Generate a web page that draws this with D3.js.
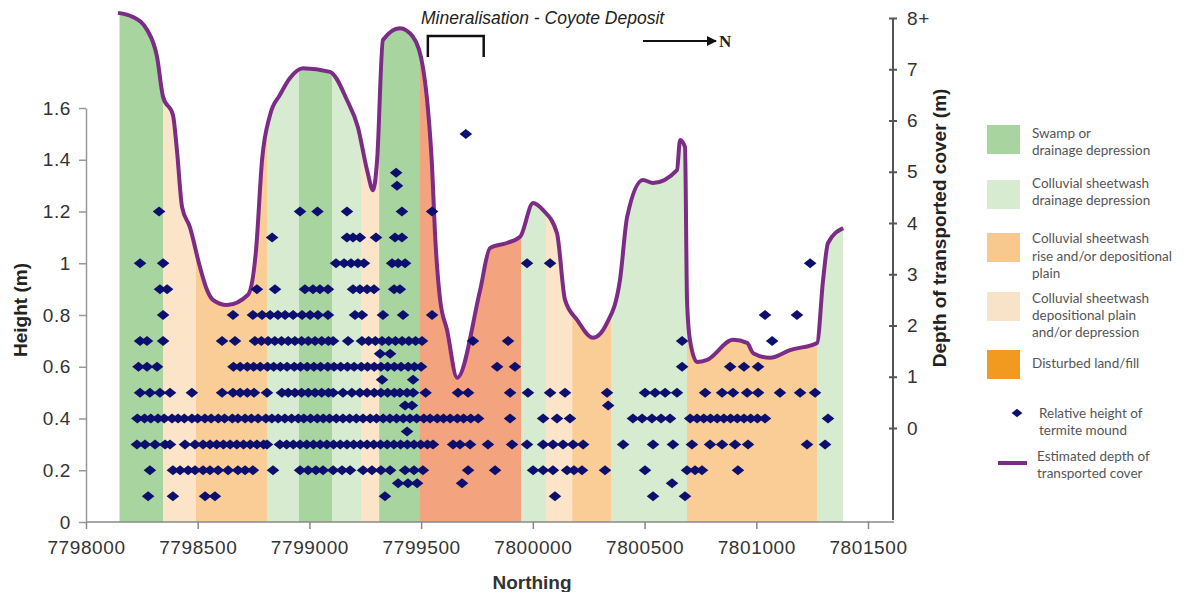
<!DOCTYPE html>
<html>
<head>
<meta charset="utf-8">
<script src="https://cdn.jsdelivr.net/npm/d3@7/dist/d3.min.js"></script>
<style>
  body { margin: 0; background: #fff; }
  svg { display: block; font-family: "Liberation Sans", Arial, sans-serif; }
</style>
</head>
<body>
<div id="main"></div>
<script>
// landform units along the traverse (northing from / to, unit type)
var bandFrom = [7798150, 7798345, 7798492, 7798810, 7798953, 7799101, 7799231, 7799312, 7799491, 7799947, 7800059, 7800176, 7800350, 7800690, 7801272];
var bandTo   = [7798345, 7798492, 7798810, 7798953, 7799101, 7799231, 7799312, 7799491, 7799947, 7800059, 7800176, 7800350, 7800690, 7801272, 7801389];
var bandType = ["swamp", "plain", "rise", "drain", "swamp", "drain", "plain", "swamp", "fill", "drain", "plain", "rise", "drain", "rise", "drain"];

// estimated depth of transported cover (m)
var depthNorthing = [7798143, 7798210, 7798273, 7798318, 7798345, 7798389, 7798407, 7798430, 7798465, 7798510, 7798542, 7798568, 7798631, 7798725, 7798761, 7798788, 7798824, 7798868, 7798913, 7798971, 7799092, 7799168, 7799217, 7799258, 7799285, 7799303, 7799329, 7799405, 7799464, 7799508, 7799531, 7799549, 7799562, 7799585, 7799616, 7799661, 7799764, 7799808, 7799884, 7799943, 7800001, 7800046, 7800108, 7800144, 7800198, 7800269, 7800332, 7800390, 7800422, 7800493, 7800538, 7800645, 7800659, 7800681, 7800690, 7800703, 7800735, 7800780, 7800896, 7800959, 7800986, 7801062, 7801151, 7801272, 7801299, 7801321, 7801389];
var depthValue    = [8.10, 8.02, 7.77, 7.24, 6.46, 6.11, 5.42, 4.31, 3.92, 3.14, 2.69, 2.50, 2.40, 2.60, 3.47, 5.23, 6.11, 6.50, 6.83, 7.02, 6.95, 6.40, 5.87, 5.03, 4.64, 5.23, 7.57, 7.80, 7.63, 7.04, 6.20, 5.09, 3.80, 2.50, 1.91, 0.98, 2.69, 3.51, 3.61, 3.73, 4.39, 4.25, 3.80, 2.50, 2.11, 1.76, 2.05, 2.89, 4.12, 4.84, 4.78, 5.03, 5.62, 5.48, 2.50, 1.72, 1.29, 1.33, 1.72, 1.66, 1.46, 1.37, 1.52, 1.66, 2.89, 3.61, 3.90];

// relative height of termite mounds (m) and the northings where they occur
var moundLevels = [1.5, 1.35, 1.3, 1.2, 1.1, 1.0, 0.9, 0.8, 0.7, 0.65, 0.6, 0.55, 0.5, 0.45, 0.4, 0.35, 0.3, 0.2, 0.15, 0.1];
var moundNorthings = [
  [7799700],
  [7799388],
  [7799392],
  [7798327, 7798958, 7799036, 7799168, 7799414, 7799549],
  [7798833, 7799168, 7799195, 7799226, 7799298, 7799383, 7799414],
  [7798242, 7798345, 7799119, 7799155, 7799186, 7799217, 7799244, 7799370, 7799397, 7799428, 7799974, 7800077, 7801241],
  [7798331, 7798363, 7798765, 7798846, 7798980, 7799016, 7799047, 7799083, 7799195, 7799226, 7799258, 7799289, 7799379, 7799405],
  [7798345, 7798658, 7798747, 7798788, 7798824, 7798859, 7798891, 7798927, 7798967, 7799003, 7799038, 7799083, 7799204, 7799235, 7799329, 7799419, 7799549, 7801039, 7801182],
  [7798242, 7798273, 7798345, 7798609, 7798667, 7798756, 7798785, 7798815, 7798845, 7798875, 7798905, 7798935, 7798965, 7798995, 7799025, 7799055, 7799085, 7799106, 7799173, 7799235, 7799265, 7799295, 7799325, 7799355, 7799385, 7799415, 7799445, 7799475, 7799504, 7799732, 7799889, 7800668, 7801071],
  [7799316, 7799361],
  [7798235, 7798273, 7798318, 7798660, 7798690, 7798722, 7798750, 7798780, 7798812, 7798840, 7798870, 7798900, 7798932, 7798960, 7798990, 7799020, 7799050, 7799082, 7799110, 7799140, 7799170, 7799200, 7799232, 7799260, 7799290, 7799320, 7799350, 7799380, 7799410, 7799442, 7799470, 7799500, 7799840, 7799920, 7800668, 7800883, 7800945, 7801008],
  [7799325, 7799464],
  [7798242, 7798286, 7798331, 7798376, 7798474, 7798609, 7798658, 7798690, 7798722, 7798752, 7798810, 7798877, 7798905, 7798935, 7798965, 7798995, 7799025, 7799055, 7799085, 7799106, 7799150, 7799190, 7799226, 7799258, 7799290, 7799320, 7799350, 7799380, 7799405, 7799437, 7799464, 7799520, 7799665, 7799710, 7799898, 7799978, 7800077, 7800144, 7800332, 7800502, 7800547, 7800592, 7800645, 7800771, 7800847, 7800896, 7800959, 7801008, 7801106, 7801196, 7801263],
  [7799428, 7799459, 7800337],
  [7798230, 7798262, 7798290, 7798322, 7798350, 7798385, 7798412, 7798440, 7798474, 7798500, 7798532, 7798560, 7798592, 7798620, 7798655, 7798680, 7798712, 7798740, 7798770, 7798805, 7798832, 7798860, 7798890, 7798920, 7798950, 7798975, 7799005, 7799035, 7799062, 7799090, 7799120, 7799150, 7799180, 7799210, 7799240, 7799272, 7799300, 7799330, 7799360, 7799390, 7799420, 7799450, 7799480, 7799512, 7799540, 7799572, 7799600, 7799630, 7799662, 7799690, 7799722, 7799755, 7799898, 7800046, 7800108, 7800166, 7800448, 7800489, 7800533, 7800574, 7800614, 7800704, 7800735, 7800765, 7800795, 7800825, 7800855, 7800885, 7800915, 7800945, 7800975, 7801005, 7801039, 7801321],
  [7799437],
  [7798228, 7798264, 7798309, 7798354, 7798376, 7798443, 7798488, 7798524, 7798555, 7798585, 7798615, 7798645, 7798675, 7798705, 7798735, 7798765, 7798795, 7798810, 7798868, 7798898, 7798928, 7798958, 7798988, 7799018, 7799048, 7799078, 7799108, 7799138, 7799168, 7799198, 7799228, 7799258, 7799288, 7799318, 7799348, 7799378, 7799408, 7799438, 7799468, 7799498, 7799528, 7799553, 7799643, 7799674, 7799719, 7799799, 7799907, 7799974, 7800046, 7800090, 7800135, 7800180, 7800225, 7800404, 7800538, 7800627, 7800712, 7800793, 7800847, 7800905, 7800963, 7801227, 7801308],
  [7798286, 7798389, 7798421, 7798457, 7798488, 7798524, 7798555, 7798591, 7798636, 7798680, 7798712, 7798747, 7798837, 7798958, 7798994, 7799029, 7799061, 7799106, 7799146, 7799182, 7799240, 7799280, 7799320, 7799361, 7799428, 7799468, 7799508, 7799710, 7799831, 7800001, 7800046, 7800090, 7800153, 7800184, 7800220, 7800323, 7800502, 7800690, 7800726, 7800757, 7800918],
  [7799397, 7799441, 7799482, 7799683, 7800623],
  [7798278, 7798389, 7798533, 7798577, 7799338, 7800099, 7800538, 7800681]
];

var xTicks = [7798000, 7798500, 7799000, 7799500, 7800000, 7800500, 7801000, 7801500];
var heightTicks = [0, 0.2, 0.4, 0.6, 0.8, 1, 1.2, 1.4, 1.6];
var depthTicks = [0, 1, 2, 3, 4, 5, 6, 7, 8];
var depthTickLabels = ["0", "1", "2", "3", "4", "5", "6", "7", "8+"];
var mineralisation = [7799530, 7799780];

var legendTypes = ["swamp", "drain", "rise", "plain", "fill"];
var legendLabels = [
  ["Swamp or", "drainage depression"],
  ["Colluvial sheetwash", "drainage depression"],
  ["Colluvial sheetwash", "rise and/or depositional", "plain"],
  ["Colluvial sheetwash", "depositional plain", "and/or depression"],
  ["Disturbed land/fill"]
];

var fills = { swamp: "#a8d4a0", drain: "#d6ebd0", rise: "#f9cd95", plain: "#fbe4c8", fill: "#f3a47f" };
var legendFills = { swamp: "#a8d4a0", drain: "#d6ebd0", rise: "#f8c98e", plain: "#f9e3c8", fill: "#f29a1f" };
var lineColor = "#7c2b86";
var dotColor = "#0c0f6e";

var W = 1188, H = 592;
var svg = d3.select("#main").append("svg").attr("width", W).attr("height", H);
svg.append("rect").attr("width", W).attr("height", H).attr("fill", "#fff");

var x = d3.scaleLinear().domain([7798000, 7801500]).range([86, 868]);
var yL = d3.scaleLinear().domain([0, 1.6]).range([522, 108]);
var yR = d3.scaleLinear().domain([0, 8]).range([428, 18]);
var bottom = yL(0);

var depth = depthNorthing.map(function(n, i) { return [n, depthValue[i]]; });

// coloured bands: area under depth curve clipped to each unit
var area = d3.area()
  .x(function(d) { return x(d[0]); })
  .y0(bottom)
  .y1(function(d) { return yR(d[1]); })
  .curve(d3.curveMonotoneX);

var defs = svg.append("defs");
bandFrom.forEach(function(b, i) {
  defs.append("clipPath").attr("id", "band" + i)
    .append("rect")
      .attr("x", x(b)).attr("y", 0)
      .attr("width", x(bandTo[i]) - x(b)).attr("height", bottom);
  svg.append("path")
    .datum(depth)
    .attr("d", area)
    .attr("fill", fills[bandType[i]])
    .attr("clip-path", "url(#band" + i + ")");
});

// depth line
var line = d3.line()
  .x(function(d) { return x(d[0]); })
  .y(function(d) { return yR(d[1]); })
  .curve(d3.curveMonotoneX);
svg.append("path").datum(depth)
  .attr("d", line)
  .attr("fill", "none")
  .attr("stroke", lineColor)
  .attr("stroke-width", 4)
  .attr("stroke-linejoin", "round");

// termite mounds
var diamond = "M0,-5L6.3,0L0,5L-6.3,0Z";
var mounds = [];
moundLevels.forEach(function(h, i) {
  moundNorthings[i].forEach(function(n) { mounds.push([n, h]); });
});
svg.append("g").selectAll("path").data(mounds).enter().append("path")
  .attr("d", diamond)
  .attr("transform", function(d) { return "translate(" + x(d[0]) + "," + yL(d[1]) + ")"; })
  .attr("fill", dotColor);

// axes
var xAxis = svg.append("g").attr("transform", "translate(0," + bottom + ")")
  .call(d3.axisBottom(x).tickValues(xTicks).tickFormat(d3.format("d")).tickSize(7).tickSizeOuter(0));
xAxis.select(".domain").remove();
xAxis.append("line").attr("x1", 86).attr("x2", 894).attr("stroke", "#888").attr("stroke-width", 1.5);
xAxis.selectAll(".tick line").attr("stroke", "#888").attr("stroke-width", 1.5);
xAxis.selectAll(".tick text").attr("dy", "1.15em").attr("fill", "#333")
  .style("font-size", "19px").style("letter-spacing", "0.6px");

var lAxis = svg.append("g").attr("transform", "translate(86,0)")
  .call(d3.axisLeft(yL).tickValues(heightTicks).tickFormat(d3.format("~g")).tickSize(7).tickSizeOuter(0));
lAxis.select(".domain").attr("stroke", "#999").attr("stroke-width", 1.5);
lAxis.selectAll(".tick line").attr("stroke", "#999").attr("stroke-width", 1.5);
lAxis.selectAll(".tick text").attr("x", -15).attr("fill", "#333")
  .style("font-size", "19px").style("letter-spacing", "0.6px");

var rAxis = svg.append("g").attr("transform", "translate(893,0)")
  .call(d3.axisRight(yR).tickValues(depthTicks).tickFormat(function(d, i) { return depthTickLabels[i]; }).tickSize(4).tickSizeOuter(0));
rAxis.select(".domain").remove();
rAxis.append("line").attr("y1", yR(8)).attr("y2", 520).attr("stroke", "#555").attr("stroke-width", 2);
rAxis.selectAll(".tick line").attr("x1", -4).attr("stroke", "#555").attr("stroke-width", 2);
rAxis.selectAll(".tick text").attr("x", 14).attr("fill", "#333")
  .style("font-size", "19px").style("letter-spacing", "0.6px");

svg.selectAll(".tick text").attr("font-family", null);

// axis titles
svg.append("text").attr("x", 532).attr("y", 589).attr("text-anchor", "middle")
  .attr("font-weight", "bold").attr("font-size", 19).attr("fill", "#333").text("Northing");
svg.append("text").attr("transform", "translate(27,310) rotate(-90)").attr("text-anchor", "middle")
  .attr("font-weight", "bold").attr("font-size", 19).attr("fill", "#222").text("Height (m)");
svg.append("text").attr("transform", "translate(946,228) rotate(-90)").attr("text-anchor", "middle")
  .attr("font-weight", "bold").attr("font-size", 19).attr("fill", "#222").text("Depth of transported cover (m)");

// mineralisation bracket and north arrow
svg.append("text").attr("x", 421).attr("y", 24).attr("font-style", "italic")
  .attr("font-size", 17.5).attr("fill", "#222").text("Mineralisation - Coyote Deposit");
svg.append("path")
  .attr("d", "M" + x(mineralisation[0]) + ",57V36H" + x(mineralisation[1]) + "V57")
  .attr("fill", "none").attr("stroke", "#111").attr("stroke-width", 2.5);
svg.append("defs").append("marker").attr("id", "arrow")
  .attr("viewBox", "0 0 10 10").attr("refX", 9).attr("refY", 5)
  .attr("markerWidth", 5).attr("markerHeight", 5).attr("orient", "auto")
  .append("path").attr("d", "M0,0L10,5L0,10z").attr("fill", "#111");
svg.append("line").attr("x1", 643).attr("x2", 716).attr("y1", 41).attr("y2", 41)
  .attr("stroke", "#111").attr("stroke-width", 2).attr("marker-end", "url(#arrow)");
svg.append("text").attr("x", 719).attr("y", 47).attr("font-family", "Liberation Serif, serif")
  .attr("font-weight", "bold").attr("font-size", 17).attr("fill", "#222").text("N");

// legend
var legend = svg.append("g").attr("font-family", "Lato, sans-serif").attr("font-size", 13.5).attr("fill", "#555");
var swatchY = [125, 180, 233, 292, 350];
var textY = [[133, 150], [183, 200], [238, 256, 273], [298, 315, 332], [363]];
legendTypes.forEach(function(t, i) {
  legend.append("rect").attr("x", 987).attr("y", swatchY[i]).attr("width", 33).attr("height", 29)
    .attr("fill", legendFills[t]);
  legendLabels[i].forEach(function(s, j) {
    legend.append("text").attr("x", 1032).attr("y", textY[i][j]).attr("dy", "0.35em").text(s);
  });
});
legend.append("path").attr("d", diamond).attr("transform", "translate(1017,413) scale(0.85)").attr("fill", dotColor);
legend.append("text").attr("x", 1039).attr("y", 413).attr("dy", "0.35em").text("Relative height of");
legend.append("text").attr("x", 1039).attr("y", 430).attr("dy", "0.35em").text("termite mound");
legend.append("line").attr("x1", 998).attr("x2", 1027).attr("y1", 463).attr("y2", 463)
  .attr("stroke", lineColor).attr("stroke-width", 4);
legend.append("text").attr("x", 1037).attr("y", 456).attr("dy", "0.35em").text("Estimated depth of");
legend.append("text").attr("x", 1037).attr("y", 473).attr("dy", "0.35em").text("transported cover");
</script>
</body>
</html>
